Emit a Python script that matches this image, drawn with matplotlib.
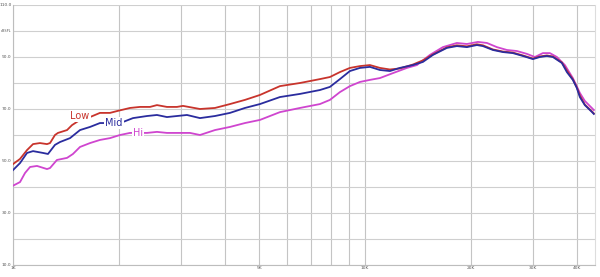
import matplotlib
matplotlib.use("Agg")
import matplotlib.pyplot as plt
from matplotlib.ticker import FixedLocator, NullLocator

# ---- data (frequency in Hz, level in dB) ----
low_f = [1000, 1047, 1096, 1140, 1193, 1249, 1274, 1316, 1342, 1424, 1471, 1550, 1655, 1766,
         1886, 1974, 2149, 2295, 2450, 2564, 2737, 2922, 3039, 3397, 3747, 4133, 4559, 5029,
         5732, 6533, 7445, 7948, 8485, 9058, 9671, 10325, 11023, 11766, 12561, 13678, 14600,
         15589, 17077, 18232, 19470, 20785, 21616, 23077, 24636, 26300, 28076, 29977, 31379,
         32848, 34164, 36234, 37437, 38931, 39960, 40752, 42102, 44075, 44656]
low_db = [48.8, 50.8, 54.2, 56.5, 56.9, 56.5, 56.9, 60.0, 60.8, 61.9, 63.8, 65.8, 66.9, 68.5,
          68.5, 69.2, 70.4, 70.8, 70.8, 71.5, 70.8, 70.8, 71.2, 70.0, 70.4, 71.9, 73.5, 75.4,
          78.8, 80.0, 81.5, 82.3, 84.2, 85.8, 86.5, 86.9, 85.8, 85.2, 85.6, 87.1, 88.7,
          91.0, 93.7, 94.5, 94.1, 94.9, 94.5, 92.9, 92.1, 91.7, 90.6, 89.4, 90.2,
          90.6, 90.2, 87.9, 84.8, 81.4, 78.3, 75.2, 71.7, 69.1, 68.3]

mid_f = [1000, 1047, 1096, 1140, 1217, 1257, 1316, 1360, 1452, 1550, 1655, 1766, 1886, 2053,
         2192, 2402, 2564, 2737, 2922, 3120, 3397, 3747, 4133, 4559, 5029, 5732, 6533, 7445,
         7948, 8485, 9058, 9671, 10325, 11023, 11766, 12561, 13678, 14600, 15589, 17077,
         18232, 19470, 20785, 21616, 23077, 24636, 26300, 28076, 29977, 31379, 32848, 34164,
         36234, 37437, 38931, 39960, 40752, 42102, 44075, 44656]
mid_db = [46.5, 49.2, 53.1, 53.8, 53.1, 52.7, 56.2, 57.3, 58.8, 61.9, 63.1, 64.6, 64.6, 65.0,
          66.5, 67.3, 67.7, 66.9, 67.3, 67.7, 66.5, 67.3, 68.5, 70.4, 71.9, 74.6, 75.8, 77.3,
          78.5, 81.5, 84.6, 85.8, 86.2, 85.0, 84.6, 85.8, 86.9, 88.1, 90.8, 93.5,
          94.2, 93.8, 94.6, 94.2, 92.7, 91.9, 91.5, 90.4, 89.2, 90.0, 90.4, 90.0,
          87.7, 84.2, 81.2, 78.1, 74.6, 71.5, 68.9, 68.1]

hi_f = [1000, 1047, 1082, 1118, 1170, 1249, 1274, 1333, 1424, 1480, 1550, 1655, 1766, 1886,
        2013, 2149, 2402, 2564, 2737, 2980, 3182, 3397, 3747, 4133, 4559, 5029, 5732, 6533,
        7445, 7948, 8485, 9058, 9671, 10325, 11023, 12000, 13149, 14040, 15285, 16636,
        18232, 19470, 20922, 22190, 23689, 25288, 26994, 28822, 30370, 32000, 33500, 35070,
        36950, 38931, 40752, 42102, 44075, 44656]
hi_db = [40.5, 41.9, 45.4, 47.7, 48.1, 46.9, 47.3, 50.4, 51.2, 52.7, 55.4, 56.9, 58.1, 58.8,
         60.0, 60.8, 60.8, 61.2, 60.8, 60.8, 60.8, 60.0, 61.9, 63.1, 64.6, 65.8, 68.8, 70.4,
         71.9, 73.5, 76.5, 78.8, 80.4, 81.2, 81.9, 83.8, 85.8, 86.9, 90.8, 93.8,
         95.4, 95.0, 95.8, 95.4, 93.8, 92.7, 92.3, 91.2, 90.0, 91.5, 91.5, 90.0,
         86.9, 81.9, 76.2, 73.1, 70.4, 69.6]

series_names = ["Low", "Mid", "Hi"]
label_pos_f = [1550, 1935, 2265]
label_pos_db = [67.3, 64.6, 60.8]

x_ticks = [1000, 5000, 10000, 20000, 30000, 40000]
x_ticklabels = ["1K", "5K", "10K", "20K", "30K", "40K"]
x_minor = [2000, 3000, 4000, 6000, 7000, 8000, 9000]
y_ticks = [10, 20, 30, 40, 50, 60, 70, 80, 90, 100, 110]
y_ticklabels = ["10.0", "", "30.0", "", "50.0", "", "70.0", "", "90.0", "dBSPL", "110.0"]

# ---- style ----
c_low, c_mid, c_hi = "#c8342c", "#2a2c9e", "#cf45cf"

fig = plt.figure(figsize=(6.0, 2.77), dpi=100)
ax = fig.add_axes([13/600, 1-265/277, (595-13)/600, 260/277])
ax.set_xscale("log")
ax.set_xlim(1000, 45000)
ax.set_ylim(10, 110)

ax.plot(hi_f, hi_db, color=c_hi, lw=1.3, zorder=3)
ax.plot(low_f, low_db, color=c_low, lw=1.3, zorder=4)
ax.plot(mid_f, mid_db, color=c_mid, lw=1.3, zorder=5)

for name, f, d, c in zip(series_names, label_pos_f, label_pos_db, [c_low, c_mid, c_hi]):
    ax.text(f, d, name, color=c, fontsize=7, ha="center", va="center", zorder=6,
            bbox=dict(boxstyle="square,pad=0.1", fc="white", ec="none"))

ax.xaxis.set_major_locator(FixedLocator(x_ticks))
ax.set_xticklabels(x_ticklabels)
ax.xaxis.set_minor_locator(FixedLocator(x_minor))
ax.xaxis.set_minor_formatter(plt.NullFormatter())
ax.yaxis.set_major_locator(FixedLocator(y_ticks))
ax.set_yticklabels(y_ticklabels)
ax.yaxis.set_minor_locator(NullLocator())

ax.tick_params(axis="both", which="both", length=0, labelsize=3.2, colors="#555555", pad=1)
for lbl in ax.get_yticklabels():
    lbl.set_va("center")
    if len(lbl.get_text()) > 4 and not lbl.get_text()[0].isdigit():
        lbl.set_fontsize(2.4)
ax.grid(True, which="major", axis="y", color="#cfcfcf", lw=0.8)
ax.grid(True, which="both", axis="x", color="#c4c4c4", lw=0.8)
for s in ["left", "bottom"]:
    ax.spines[s].set_color("#bdbdbd")
    ax.spines[s].set_linewidth(0.8)
ax.spines["right"].set_color("#dddddd")
ax.spines["top"].set_visible(False)

fig.savefig("out.png", dpi=100)
